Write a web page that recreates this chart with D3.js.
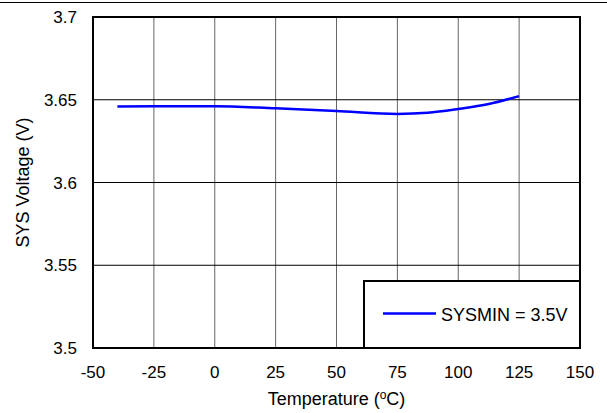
<!DOCTYPE html>
<html>
<head>
<meta charset="utf-8">
<script src="https://cdn.jsdelivr.net/npm/d3@7"></script>
<style>
  body { margin: 0; background: #fff; }
  svg { display: block; font-family: "Liberation Sans", Arial, sans-serif; }
</style>
</head>
<body>
<svg id="chart" width="607" height="413"></svg>
<script>
// chart data
const temps = [-40, -25, 0, 25, 50, 75, 87.5, 100, 112.5, 125];
const sysVolt = [3.6459, 3.6461, 3.6461, 3.6448, 3.6432, 3.6414, 3.6421, 3.6444, 3.6474, 3.6522];
const xTicks = [-50, -25, 0, 25, 50, 75, 100, 125, 150];
const yTicks = [3.5, 3.55, 3.6, 3.65, 3.7];
const seriesName = "SYSMIN = 3.5V";

const svg = d3.select("#chart");
const margin = { top: 17, right: 27, bottom: 65, left: 93 };
const width = 607, height = 413;

const x = d3.scaleLinear().domain([-50, 150]).range([margin.left, width - margin.right]);
const y = d3.scaleLinear().domain([3.5, 3.7]).range([height - margin.bottom, margin.top]);

// top rule across the page
svg.append("line")
    .attr("x1", 0).attr("x2", width)
    .attr("y1", 2.5).attr("y2", 2.5)
    .attr("stroke", "#000").attr("stroke-width", 1.2);

// gridlines
svg.append("g").selectAll("line")
    .data(xTicks.slice(1, -1))
    .enter().append("line")
    .attr("x1", d => x(d)).attr("x2", d => x(d))
    .attr("y1", y(3.7)).attr("y2", y(3.5))
    .attr("stroke", "#666").attr("stroke-width", 1);

svg.append("g").selectAll("line")
    .data(yTicks.slice(1, -1))
    .enter().append("line")
    .attr("x1", x(-50)).attr("x2", x(150))
    .attr("y1", d => y(d)).attr("y2", d => y(d))
    .attr("stroke", "#000").attr("stroke-width", 1);

// tick labels
svg.append("g").selectAll("text")
    .data(xTicks)
    .enter().append("text")
    .attr("x", d => x(d))
    .attr("y", y(3.5) + 30)
    .attr("text-anchor", "middle")
    .attr("font-size", 17)
    .text(d => d);

svg.append("g").selectAll("text")
    .data(yTicks)
    .enter().append("text")
    .attr("x", x(-50) - 16)
    .attr("y", d => y(d) + 6)
    .attr("text-anchor", "end")
    .attr("font-size", 17)
    .text(d => d);

// axis titles
const xt = svg.append("text")
    .attr("x", (x(-50) + x(150)) / 2)
    .attr("y", 405)
    .attr("text-anchor", "middle")
    .attr("font-size", 18);
xt.append("tspan").text("Temperature (");
xt.append("tspan").attr("font-size", 12).attr("dy", -6).text("o");
xt.append("tspan").attr("dy", 6).text("C)");

svg.append("text")
    .attr("transform", `translate(29,${(y(3.5) + y(3.7)) / 2}) rotate(-90)`)
    .attr("text-anchor", "middle")
    .attr("font-size", 18)
    .text("SYS Voltage (V)");

// data line
const line = d3.line()
    .x((d, i) => x(temps[i]))
    .y(d => y(d))
    .curve(d3.curveMonotoneX);

svg.append("path")
    .datum(sysVolt)
    .attr("d", line)
    .attr("fill", "none")
    .attr("stroke", "#0000ff")
    .attr("stroke-width", 2.5);

// legend
const lg = svg.append("g");
lg.append("rect")
    .attr("x", 364).attr("y", 281)
    .attr("width", x(150) - 364).attr("height", y(3.5) - 281)
    .attr("fill", "#fff").attr("stroke", "#000").attr("stroke-width", 2);
lg.append("line")
    .attr("x1", 383).attr("x2", 436)
    .attr("y1", 313.5).attr("y2", 313.5)
    .attr("stroke", "#0000ff").attr("stroke-width", 2.5);
lg.append("text")
    .attr("x", 441).attr("y", 320.5)
    .attr("font-size", 18)
    .text(seriesName);

// plot border
svg.append("rect")
    .attr("x", x(-50)).attr("y", y(3.7))
    .attr("width", x(150) - x(-50)).attr("height", y(3.5) - y(3.7))
    .attr("fill", "none").attr("stroke", "#000").attr("stroke-width", 2);
</script>
</body>
</html>
